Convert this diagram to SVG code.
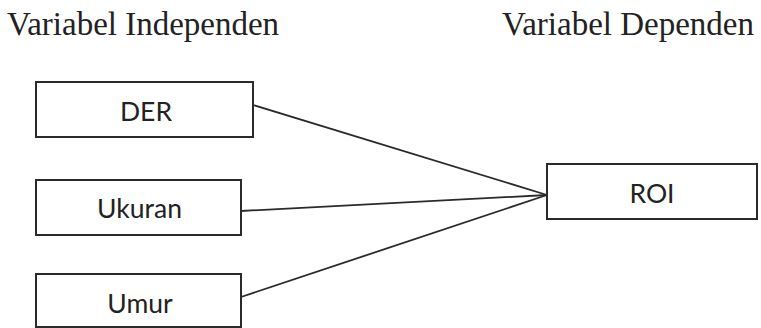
<svg xmlns="http://www.w3.org/2000/svg" width="761" height="328" viewBox="0 0 761 328">
<style>
.box{fill:#fff;stroke:#2a2a2a;stroke-width:2}
.lbl{font-family:Lato,"Open Sans",sans-serif;font-size:26.5px;fill:#222;text-anchor:middle}
.title{font-family:"Liberation Serif","Times New Roman",serif;font-size:33px;fill:#222}
.conn{stroke:#2a2a2a;stroke-width:1.8;fill:none}
</style>
<rect width="761" height="328" fill="#fff"/>
<text class="title" x="7" y="35">Variabel Independen</text>
<text class="title" x="502" y="35">Variabel Dependen</text>
<g id="connectors">
<line class="conn" x1="253" y1="105" x2="547" y2="195"/>
<line class="conn" x1="241" y1="211" x2="547" y2="195"/>
<line class="conn" x1="241" y1="297" x2="547" y2="195"/>
</g>
<g id="node-der">
<rect class="box" x="36" y="82" width="217" height="55"/>
<text class="lbl" x="146" y="121">DER</text>
</g>
<g id="node-ukuran">
<rect class="box" x="36" y="180" width="205" height="55"/>
<text class="lbl" x="139.5" y="218">Ukuran</text>
</g>
<g id="node-umur">
<rect class="box" x="36" y="274" width="205" height="53"/>
<text class="lbl" x="140" y="313">Umur</text>
</g>
<g id="node-roi">
<rect class="box" x="547" y="164" width="210" height="55"/>
<text class="lbl" x="652" y="203">ROI</text>
</g>
</svg>
